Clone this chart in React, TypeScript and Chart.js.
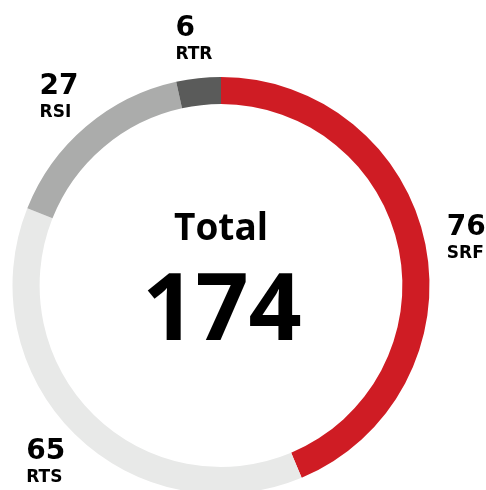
import React, { useEffect, useRef } from "react";
import { Chart, registerables } from "chart.js";

Chart.register(...registerables);

const categories = ["SRF", "RTS", "RSI", "RTR"];
const values = [76, 65, 27, 6];
const colors = ["#CF1C24", "#E8E9E8", "#ABACAB", "#5A5B5A"];
const centerTitle = "Total";

const FONT = "'Open Sans', 'Noto Sans', sans-serif";
const LABEL_FONT = "'DejaVu Sans', sans-serif";
const VIEW_H = 490;

const labelPlugin = {
  id: "arcLabels",
  afterDraw(chart: any) {
    const ctx = chart.ctx;
    const meta = chart.getDatasetMeta(0);
    const total = values.reduce((a, b) => a + b, 0);
    ctx.save();
    ctx.fillStyle = "#000";
    const numFont = `bold 28px ${LABEL_FONT}`;
    const labFont = `bold 17px ${LABEL_FONT}`;
    meta.data.forEach((arc: any, i: number) => {
      const mid = (arc.startAngle + arc.endAngle) / 2;
      const r = arc.outerRadius * 1.2;
      const cx = arc.x + Math.cos(mid) * r;
      let cy = arc.y + Math.sin(mid) * r;
      // keep the block inside the visible window
      cy = Math.min(cy, VIEW_H - 8 - 22);
      ctx.font = numFont;
      const w1 = ctx.measureText(String(values[i])).width;
      ctx.font = labFont;
      const w2 = ctx.measureText(categories[i]).width;
      let left = cx - Math.max(w1, w2) / 2;
      left = Math.max(left, 16);
      ctx.textAlign = "left";
      ctx.textBaseline = "alphabetic";
      ctx.font = numFont;
      ctx.fillText(String(values[i]), left, cy - 1);
      ctx.font = labFont;
      ctx.fillText(categories[i], left, cy + 22);
    });
    const a = meta.data[0];
    ctx.textAlign = "center";
    ctx.font = `bold 37px ${FONT}`;
    ctx.fillText(centerTitle, a.x, a.y - 45.5);
    ctx.font = `bold 93px ${FONT}`;
    ctx.fillText(String(total), a.x + 1, a.y + 54.5);
    ctx.restore();
  },
};

export default function App() {
  const ref = useRef<HTMLCanvasElement>(null);
  useEffect(() => {
    if (!ref.current) return;
    const chart = new Chart(ref.current, {
      type: "doughnut",
      data: {
        labels: categories,
        datasets: [
          {
            data: values,
            backgroundColor: colors,
            borderWidth: 0,
          },
        ],
      },
      options: {
        responsive: false,
        animation: false,
        devicePixelRatio: 1,
        cutout: "87%",
        layout: { padding: { left: 12.5, right: 56.5, top: 77, bottom: 6 } },
        plugins: {
          legend: { display: false },
          tooltip: { enabled: false },
        },
      },
      plugins: [labelPlugin],
    });
    return () => chart.destroy();
  }, []);
  return (
    <div
      style={{
        position: "absolute",
        left: 0,
        top: 0,
        width: 486,
        height: VIEW_H,
        overflow: "hidden",
        background: "#fff",
      }}
    >
      <canvas ref={ref} width={486} height={500} style={{ width: 486, height: 500, display: "block" }} />
    </div>
  );
}
